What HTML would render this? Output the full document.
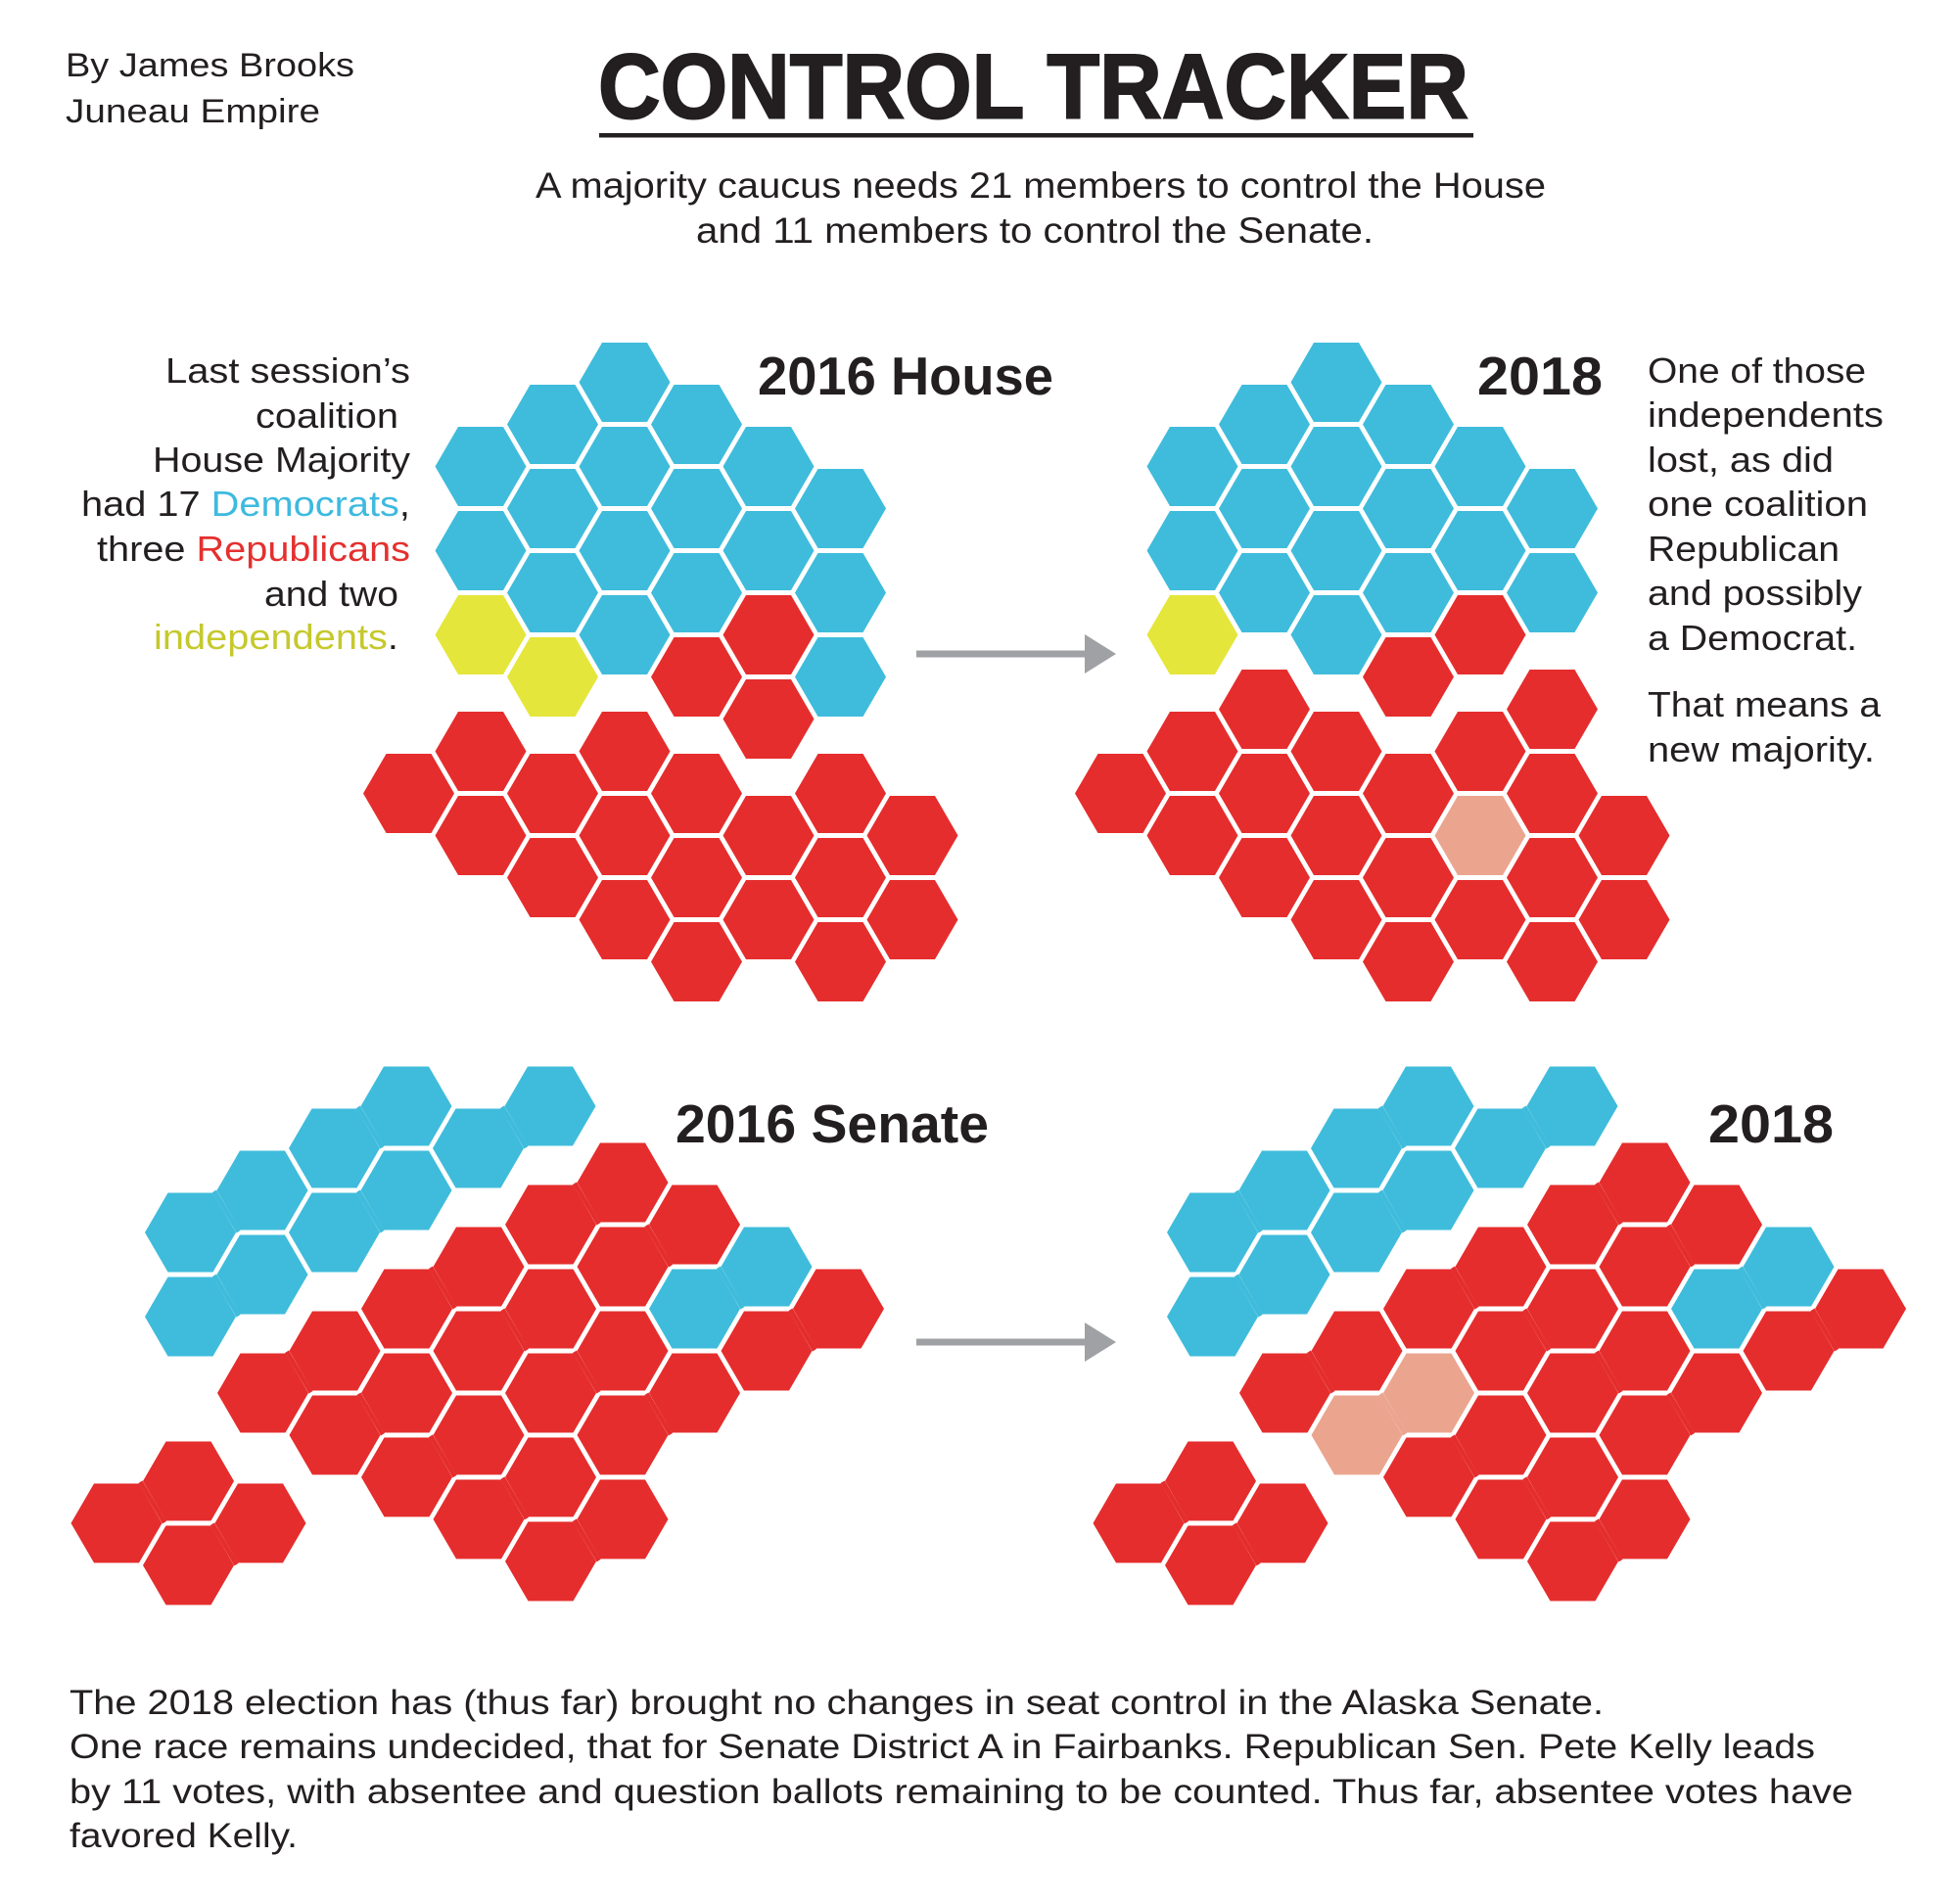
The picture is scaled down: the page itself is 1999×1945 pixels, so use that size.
<!DOCTYPE html>
<html><head><meta charset="utf-8"><style>
html,body{margin:0;padding:0;background:#fff;}
svg{display:block;}
text{font-family:"Liberation Sans",sans-serif;fill:#231f20;}
</style></head><body>
<svg width="1999" height="1945" viewBox="0 0 1999 1945" xmlns="http://www.w3.org/2000/svg" xmlns:xlink="http://www.w3.org/1999/xlink">
<defs>
<polygon id="h" points="-46.5,0 -23,-40.5 23,-40.5 46.5,0 23,40.5 -23,40.5"/>
<g id="p">
<polygon points="-46.5,0 -23,-40.5 23,-40.5 46.5,0 23,40.5 -23,40.5"/>
<polygon points="-120,43 -96.5,2.5 -50.5,2.5 -27,43 -50.5,83.5 -96.5,83.5"/>
<polygon points="-47,-0.5 -22.5,41 -26.5,43.5 -51,2"/>
</g>
</defs>
<rect width="1999" height="1945" fill="#fff"/>

<!-- Header -->
<text x="67" y="78" font-size="34" textLength="295" lengthAdjust="spacingAndGlyphs">By James Brooks</text>
<text x="67" y="125" font-size="34" textLength="260" lengthAdjust="spacingAndGlyphs">Juneau Empire</text>
<text x="611" y="120.7" font-size="94" font-weight="bold" textLength="889" lengthAdjust="spacingAndGlyphs" stroke="#231f20" stroke-width="2">CONTROL TRACKER</text>
<rect x="612" y="136" width="893" height="4.5" fill="#231f20"/>
<text x="547" y="202" font-size="37" textLength="1032" lengthAdjust="spacingAndGlyphs">A majority caucus needs 21 members to control the House</text>
<text x="711" y="248" font-size="37" textLength="692" lengthAdjust="spacingAndGlyphs">and 11 members to control the Senate.</text>

<!-- Left text -->
<g font-size="36" text-anchor="end">
<text x="419" y="391" textLength="250" lengthAdjust="spacingAndGlyphs">Last session’s</text>
<text x="407" y="437" textLength="146" lengthAdjust="spacingAndGlyphs">coalition</text>
<text x="419" y="482" textLength="263" lengthAdjust="spacingAndGlyphs">House Majority</text>
<text x="419" y="527" textLength="336" lengthAdjust="spacingAndGlyphs">had 17 <tspan fill="#3dbadf">Democrats</tspan>,</text>
<text x="419" y="573" textLength="320" lengthAdjust="spacingAndGlyphs">three <tspan fill="#e4302f">Republicans</tspan></text>
<text x="407" y="619" textLength="137" lengthAdjust="spacingAndGlyphs">and two</text>
<text x="407" y="663" textLength="250" lengthAdjust="spacingAndGlyphs"><tspan fill="#c5c92c">independents</tspan>.</text>
</g>
<!-- Right text -->
<g font-size="36">
<text x="1683" y="391" textLength="223" lengthAdjust="spacingAndGlyphs">One of those</text>
<text x="1683" y="436" textLength="241" lengthAdjust="spacingAndGlyphs">independents</text>
<text x="1683" y="482" textLength="190" lengthAdjust="spacingAndGlyphs">lost, as did</text>
<text x="1683" y="527" textLength="225" lengthAdjust="spacingAndGlyphs">one coalition</text>
<text x="1683" y="573" textLength="196" lengthAdjust="spacingAndGlyphs">Republican</text>
<text x="1683" y="618" textLength="219" lengthAdjust="spacingAndGlyphs">and possibly</text>
<text x="1683" y="664" textLength="214" lengthAdjust="spacingAndGlyphs">a Democrat.</text>
<text x="1683" y="732" textLength="238" lengthAdjust="spacingAndGlyphs">That means a</text>
<text x="1683" y="778" textLength="232" lengthAdjust="spacingAndGlyphs">new majority.</text>
</g>

<!-- Section headers -->
<g font-size="55" font-weight="bold">
<text x="774" y="403" textLength="302" lengthAdjust="spacingAndGlyphs">2016 House</text>
<text x="1509" y="403" textLength="128" lengthAdjust="spacingAndGlyphs">2018</text>
<text x="690" y="1167" textLength="320" lengthAdjust="spacingAndGlyphs">2016 Senate</text>
<text x="1745" y="1167" textLength="128" lengthAdjust="spacingAndGlyphs">2018</text>
</g>

<!-- Arrows -->
<g fill="#a0a1a4">
<rect x="936" y="664.5" width="176" height="7"/>
<polygon points="1108,648 1140,668 1108,688"/>
<rect x="936" y="1367.5" width="176" height="7"/>
<polygon points="1108,1351 1140,1371 1108,1391"/>
</g>

<!-- House 2016 -->
<g fill="#3fbcdb">
<use href="#h" x="491" y="476.5"/><use href="#h" x="491" y="562.5"/>
<use href="#h" x="564.5" y="433.5"/><use href="#h" x="564.5" y="519.5"/><use href="#h" x="564.5" y="605.5"/>
<use href="#h" x="638" y="390.5"/><use href="#h" x="638" y="476.5"/><use href="#h" x="638" y="562.5"/><use href="#h" x="638" y="648.5"/>
<use href="#h" x="711.5" y="433.5"/><use href="#h" x="711.5" y="519.5"/><use href="#h" x="711.5" y="605.5"/>
<use href="#h" x="785" y="476.5"/><use href="#h" x="785" y="562.5"/>
<use href="#h" x="858.5" y="519.5"/><use href="#h" x="858.5" y="605.5"/><use href="#h" x="858.5" y="691.5"/>
</g>
<g fill="#e4e63b">
<use href="#h" x="491" y="648.5"/><use href="#h" x="564.5" y="691.5"/>
</g>
<g fill="#e52d2d">
<use href="#h" x="711.5" y="691.5"/><use href="#h" x="785" y="648.5"/><use href="#h" x="785" y="734.5"/>
<use href="#h" x="417.5" y="810.5"/>
<use href="#h" x="491" y="767.5"/><use href="#h" x="491" y="853.5"/>
<use href="#h" x="564.5" y="810.5"/><use href="#h" x="564.5" y="896.5"/>
<use href="#h" x="638" y="767.5"/><use href="#h" x="638" y="853.5"/><use href="#h" x="638" y="939.5"/>
<use href="#h" x="711.5" y="810.5"/><use href="#h" x="711.5" y="896.5"/><use href="#h" x="711.5" y="982.5"/>
<use href="#h" x="785" y="853.5"/><use href="#h" x="785" y="939.5"/>
<use href="#h" x="858.5" y="810.5"/><use href="#h" x="858.5" y="896.5"/><use href="#h" x="858.5" y="982.5"/>
<use href="#h" x="932" y="853.5"/><use href="#h" x="932" y="939.5"/>
</g>

<!-- House 2018 -->
<g fill="#3fbcdb">
<use href="#h" x="1218" y="476.5"/><use href="#h" x="1218" y="562.5"/>
<use href="#h" x="1291.5" y="433.5"/><use href="#h" x="1291.5" y="519.5"/><use href="#h" x="1291.5" y="605.5"/>
<use href="#h" x="1365" y="390.5"/><use href="#h" x="1365" y="476.5"/><use href="#h" x="1365" y="562.5"/><use href="#h" x="1365" y="648.5"/>
<use href="#h" x="1438.5" y="433.5"/><use href="#h" x="1438.5" y="519.5"/><use href="#h" x="1438.5" y="605.5"/>
<use href="#h" x="1512" y="476.5"/><use href="#h" x="1512" y="562.5"/>
<use href="#h" x="1585.5" y="519.5"/><use href="#h" x="1585.5" y="605.5"/>
</g>
<g fill="#e4e63b"><use href="#h" x="1218" y="648.5"/></g>
<g fill="#e52d2d">
<use href="#h" x="1438.5" y="691.5"/><use href="#h" x="1512" y="648.5"/>
<use href="#h" x="1144.5" y="810.5"/>
<use href="#h" x="1218" y="767.5"/><use href="#h" x="1218" y="853.5"/>
<use href="#h" x="1291.5" y="724.5"/><use href="#h" x="1291.5" y="810.5"/><use href="#h" x="1291.5" y="896.5"/>
<use href="#h" x="1365" y="767.5"/><use href="#h" x="1365" y="853.5"/><use href="#h" x="1365" y="939.5"/>
<use href="#h" x="1438.5" y="810.5"/><use href="#h" x="1438.5" y="896.5"/><use href="#h" x="1438.5" y="982.5"/>
<use href="#h" x="1512" y="767.5"/><use href="#h" x="1512" y="939.5"/>
<use href="#h" x="1585.5" y="724.5"/><use href="#h" x="1585.5" y="810.5"/><use href="#h" x="1585.5" y="896.5"/><use href="#h" x="1585.5" y="982.5"/>
<use href="#h" x="1659" y="853.5"/><use href="#h" x="1659" y="939.5"/>
</g>
<g fill="#eba58f"><use href="#h" x="1512" y="853.5"/></g>

<!-- Senate 2016 -->
<g fill="#3fbcdb">
<use href="#p" x="415" y="1130"/><use href="#p" x="562" y="1130"/>
<use href="#p" x="268" y="1216"/><use href="#p" x="415" y="1216"/>
<use href="#p" x="268" y="1302"/>
<use href="#p" x="783" y="1294"/>
</g>
<g fill="#e52d2d">
<use href="#p" x="856.5" y="1337"/><use href="#p" x="636" y="1208"/><use href="#p" x="709.5" y="1251"/>
<use href="#p" x="709.5" y="1423"/><use href="#p" x="636" y="1380"/><use href="#p" x="636" y="1552"/>
<use href="#p" x="562.5" y="1337"/><use href="#p" x="562.5" y="1509"/><use href="#p" x="489" y="1294"/>
<use href="#p" x="489" y="1466"/><use href="#p" x="415.5" y="1423"/><use href="#p" x="342" y="1380"/>
<use href="#p" x="192.5" y="1513"/><use href="#p" x="266" y="1556"/>
</g>

<!-- Senate 2018 -->
<g fill="#3fbcdb">
<use href="#p" x="1459" y="1130"/><use href="#p" x="1606" y="1130"/>
<use href="#p" x="1312" y="1216"/><use href="#p" x="1459" y="1216"/>
<use href="#p" x="1312" y="1302"/>
<use href="#p" x="1827" y="1294"/>
</g>
<g fill="#e52d2d">
<use href="#p" x="1900.5" y="1337"/><use href="#p" x="1680" y="1208"/><use href="#p" x="1753.5" y="1251"/>
<use href="#p" x="1753.5" y="1423"/><use href="#p" x="1680" y="1380"/><use href="#p" x="1680" y="1552"/>
<use href="#p" x="1606.5" y="1337"/><use href="#p" x="1606.5" y="1509"/><use href="#p" x="1533" y="1294"/>
<use href="#p" x="1533" y="1466"/><use href="#p" x="1386" y="1380"/>
<use href="#p" x="1236.5" y="1513"/><use href="#p" x="1310" y="1556"/>
</g>
<g fill="#eba58f"><use href="#p" x="1459.5" y="1423"/></g>

<!-- Bottom text -->
<g font-size="35">
<text x="71" y="1751" textLength="1567" lengthAdjust="spacingAndGlyphs">The 2018 election has (thus far) brought no changes in seat control in the Alaska Senate.</text>
<text x="71" y="1796" textLength="1783" lengthAdjust="spacingAndGlyphs">One race remains undecided, that for Senate District A in Fairbanks. Republican Sen. Pete Kelly leads</text>
<text x="71" y="1842" textLength="1822" lengthAdjust="spacingAndGlyphs">by 11 votes, with absentee and question ballots remaining to be counted. Thus far, absentee votes have</text>
<text x="71" y="1887" textLength="233" lengthAdjust="spacingAndGlyphs">favored Kelly.</text>
</g>
</svg>
</body></html>
